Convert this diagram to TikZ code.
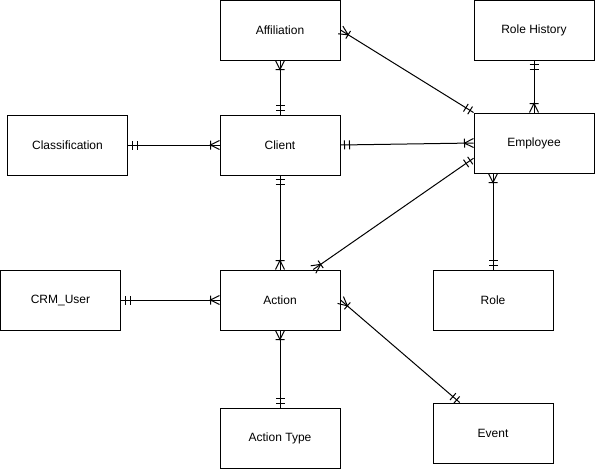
\documentclass[tikz,border=0pt]{standalone}
\usepackage{fontspec}
\setmainfont{Liberation Sans}
\usetikzlibrary{decorations.markings,calc}
\begin{document}
\begin{tikzpicture}[x=1pt,y=-1pt,
  entity/.style={draw, line width=1pt, minimum width=120pt, minimum height=60pt, inner sep=0pt, font=\fontsize{12}{14}\selectfont},
  rel/.style={draw, line width=1pt, postaction={decorate}, decoration={markings,
    mark=at position 0 with {\draw[line width=1pt] (4pt,-4.5pt)--(4pt,4.5pt) (9pt,-4.5pt)--(9pt,4.5pt);},
    mark=at position 1 with {\draw[line width=1pt] (0pt,4.5pt)--(-9pt,0pt)--(0pt,-4.5pt) (-9pt,-4.5pt)--(-9pt,4.5pt);}}}]
\useasboundingbox (0,0) rectangle (595,469);
\node[entity] (affil) at (280,30) {Affiliation};
\node[entity] (rh) at (534,30) {Role History};
\node[entity] (cls) at (67.5,145) {Classification};
\node[entity] (client) at (280,145) {Client};
\node[entity] (emp) at (534,143) {Employee};
\node[entity] (crm) at (60.5,300) {CRM\_User};
\node[entity] (act) at (280,300) {Action};
\node[entity] (role) at (493,300) {Role};
\node[entity] (at) at (280,438) {Action Type};
\node[entity] (ev) at (493,433) {Event};
\draw[rel] (client.north) -- (affil.south);
\draw[rel] (emp.north west) -- (affil.east);
\draw[rel] (rh.south) -- (emp.north);
\draw[rel] (cls.east) -- (client.west);
\draw[rel] (client.east) -- (emp.west);
\draw[rel] (client.south) -- (act.north);
\draw[rel] ($(emp.south west)!0.25!(emp.north west)$) -- ($(act.north west)!0.775!(act.north east)$);
\draw[rel] (role.north) -- (role.north |- emp.south);
\draw[rel] (crm.east) -- (act.west);
\draw[rel] (at.north) -- (act.south);
\draw[rel] ($(ev.north west)!0.225!(ev.north east)$) -- (act.east);
\end{tikzpicture}
\end{document}
